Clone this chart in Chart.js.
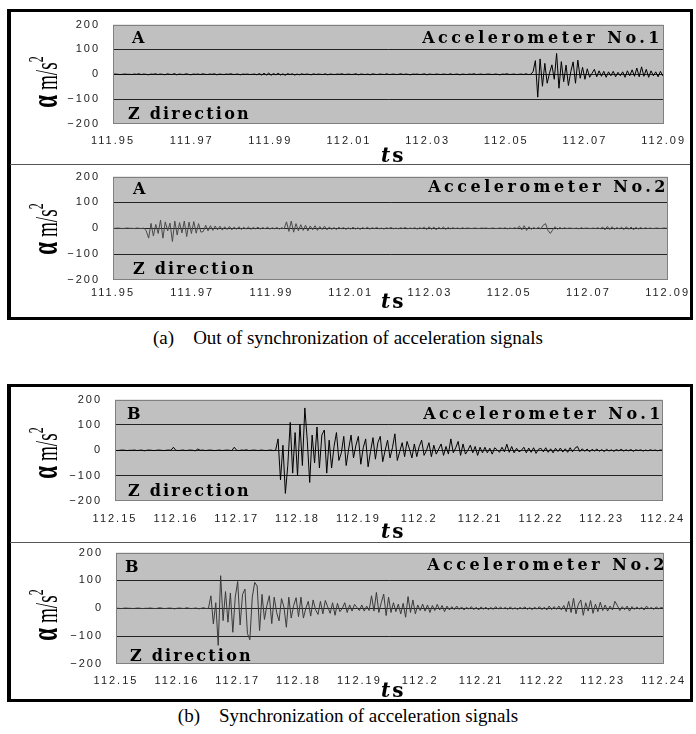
<!DOCTYPE html>
<html><head><meta charset="utf-8">
<script src="https://cdn.jsdelivr.net/npm/chart.js@4.4.1/dist/chart.umd.min.js"></script>
<style>
body{margin:0;background:#fff;width:696px;height:734px;position:relative;overflow:hidden;}
.box{position:absolute;box-sizing:border-box;border:3px solid #000;border-left-width:4px;}
.sep{position:absolute;height:1px;background:#555;}
canvas{position:absolute;z-index:1;}
.lab{position:absolute;z-index:3;font-family:"DejaVu Serif",serif;font-weight:bold;font-size:16px;line-height:16px;white-space:pre;color:#000;}
.acc{letter-spacing:3.5px;text-align:right;}
.zd{letter-spacing:2.2px;}
.ylab{position:absolute;z-index:3;width:120px;height:40px;line-height:40px;text-align:center;font-family:"Liberation Serif",serif;font-size:32px;white-space:nowrap;color:#000;}
.ylab b{font-size:38px;}
.ylab sup{font-size:20px;vertical-align:14px;line-height:0;}
.ts{position:absolute;z-index:3;font-family:"DejaVu Serif",serif;font-size:20px;line-height:20px;font-weight:bold;letter-spacing:2px;color:#000;}
.cap{position:absolute;left:0;width:696px;text-align:center;font-family:"Liberation Serif",serif;font-size:19px;line-height:20px;white-space:pre;color:#000;}
</style></head><body>
<div class="box" style="left:7px;top:9px;width:686px;height:311px"></div>
<div class="sep" style="left:10px;top:164px;width:680px"></div>
<div class="box" style="left:7px;top:384px;width:686px;height:318px"></div>
<div class="sep" style="left:10px;top:542px;width:680px"></div>

<div class="lab" style="left:132px;top:30px">A</div>
<div class="lab acc" style="right:33px;top:30px">Accelerometer No.1</div>
<div class="lab zd" style="left:128px;top:106px">Z direction</div>

<div class="lab" style="left:133px;top:181px">A</div>
<div class="lab acc" style="right:27px;top:179px">Accelerometer No.2</div>
<div class="lab zd" style="left:133px;top:261px">Z direction</div>

<div class="lab" style="left:127px;top:406px">B</div>
<div class="lab acc" style="right:32px;top:406px">Accelerometer No.1</div>
<div class="lab zd" style="left:128px;top:483px">Z direction</div>

<div class="lab" style="left:125px;top:559px">B</div>
<div class="lab acc" style="right:28px;top:557px">Accelerometer No.2</div>
<div class="lab zd" style="left:130px;top:648px">Z direction</div>

<div class="ylab" style="left:-16px;top:62px;transform:rotate(-90deg) scaleX(0.6)"><b>α</b> m/s<sup>2</sup></div>
<div class="ylab" style="left:-16px;top:209px;transform:rotate(-90deg) scaleX(0.6)"><b>α</b> m/s<sup>2</sup></div>
<div class="ylab" style="left:-16px;top:433px;transform:rotate(-90deg) scaleX(0.6)"><b>α</b> m/s<sup>2</sup></div>
<div class="ylab" style="left:-16px;top:595px;transform:rotate(-90deg) scaleX(0.6)"><b>α</b> m/s<sup>2</sup></div>

<div class="ts" style="left:381px;top:145px"><i>t</i>s</div>
<div class="ts" style="left:381px;top:291px"><i>t</i>s</div>
<div class="ts" style="left:381px;top:521px"><i>t</i>s</div>
<div class="ts" style="left:381px;top:680px"><i>t</i>s</div>

<div class="cap" style="top:328px">(a)    Out of synchronization of acceleration signals</div>
<div class="cap" style="top:706px">(b)    Synchronization of acceleration signals</div>

<script>
// ---- tick labels ----
const TICKS_A = ['111.95','111.97','111.99','112.01','112.03','112.05','112.07','112.09'];
const TICKS_B = ['112.15','112.16','112.17','112.18','112.19','112.2','112.21','112.22','112.23','112.24'];
const Y_MIN = -200, Y_MAX = 200, Y_STEP = 100;

// ---- sampling (start time, interval in s) ----
const T0_A = 111.95, DT_A = 0.0006;
const T0_B = 112.15, DT_B = 0.0004;

// ---- (a) Accelerometer No.1, m/s^2 ----
const A1 = [
0,1,0,-1,0,1,0,0,-1,1,0,2,-1,1,0,-2,1,0,2,-1,
1,0,-2,2,0,-1,3,-2,1,0,-1,2,0,-2,1,0,1,-1,2,0,
-1,1,0,2,-2,1,0,-1,1,0,2,-1,0,1,-2,1,0,1,-1,0,
1,-2,3,-3,4,-3,5,-4,3,-2,4,-3,2,-4,3,-1,2,-3,1,-2,
2,-1,1,0,-2,2,-1,1,0,-1,2,-2,1,0,-1,1,0,2,-1,0,
1,-1,0,2,-2,1,0,-1,1,-2,2,0,-1,1,0,-1,2,-1,0,1,
-1,0,2,-1,1,0,-2,1,0,1,-1,0,2,-2,1,0,-1,1,0,-1,
1,0,-1,2,-1,0,1,-2,1,0,-1,1,0,2,-1,0,1,-1,0,1,
0,-1,1,0,-2,1,0,2,-1,0,1,-1,0,1,-1,2,-1,0,
10,55,-92,62,-48,44,-36,5,38,-20,84,-56,51,-30,37,-45,10,50,-36,57,
-16,28,-20,22,-12,4,20,-10,14,-8,12,-12,10,-6,12,-10,8,-6,10,-12,
14,-6,18,-8,25,-10,30,-8,20,-12,14,-6,10,-10,12,-6,8,-8,10,0
];
// ---- (a) Accelerometer No.2 ----
const A2 = [
0,0,1,0,-1,0,1,0,0,-1,1,0,-1,1,
-10,-38,19,-30,15,-20,32,-38,25,-10,20,-51,28,-26,22,-18,28,-32,24,-20,26,-19,18,-15,
-12,12,-10,10,-8,9,-6,8,-7,6,-5,7,-6,5,-4,6,-5,4,-3,5,-4,3,-2,4,-3,3,-2,4,-3,2,-2,3,-3,2,-2,
25,-12,28,-15,18,-10,14,-8,12,-10,9,-6,10,-8,7,-5,8,-6,
5,-4,3,-5,4,-2,3,-4,2,-3,
4,-3,2,-4,3,-2,4,-3,2,-1,
3,-2,1,-3,2,-1,3,-2,1,-2,
2,-1,3,-2,1,-1,2,-3,2,-1,
4,-5,6,-4,5,-6,4,-3,5,-4,
3,-2,2,-1,1,-2,2,-1,1,0,
-1,1,0,-1,1,0,1,-1,0,1,
-1,0,1,-1,2,-2,1,-1,2,-1,
8,-6,10,-8,6,-4,3,-2,4,-3,12,18,-8,-20,-6,6,-4,3,-2,2,
-1,1,0,-1,1,-2,2,-1,1,0,
-1,1,-1,2,-2,5,-6,7,-5,6,
-4,3,-2,4,-5,6,-4,5,-6,4,
-3,3,-2,2,-1,1,-1,0,1,-1,
0,1,0
];
// ---- (b) Accelerometer No.1 ----
const B1 = [
0,-1,0,1,0,-1,0,0,1,-1,
0,1,-2,0,1,0,-1,0,1,0,
-1,0,1,0,12,0,-1,0,1,-1,
0,1,0,-2,5,0,1,-1,0,1,
0,-1,0,1,-1,0,1,0,-1,12,
0,-1,1,0,2,-1,0,1,0,-1,
1,0,-1,0,1,-1,0,
45,-117,20,-170,-60,110,-90,70,-100,103,-60,167,40,-127,60,-50,92,-70,60,80,-90,
40,-70,15,70,-40,-10,55,-60,5,60,-30,20,55,-55,10,45,-65,-5,50,-35,
30,55,-45,0,40,-30,10,65,-40,-5,30,-25,35,5,-30,25,-25,15,40,-20,
0,30,-25,20,-15,5,25,-20,15,-15,45,-10,10,35,-20,25,-15,0,20,-10,
15,-20,12,-10,
12,-10,8,-15,10,2,-8,12,-6,24,
-8,15,-10,8,-6,0,12,-10,9,-8,
10,-12,4,8,-6,10,-8,6,-10,8,
-5,9,-7,6,-8,10,-6,8,15,-5,
6,-4,5,-6,4,-3,5,-4,3,-5,
4,-3,2,-4,3,-2,4,-3,2,-2,
3,-4,2,-1,2,-3,1,-2,2,-1,
1,-2,1,0
];
// ---- (b) Accelerometer No.2 ----
const B2 = [
0,0,-1,0,1,0,0,-1,0,1,
0,-1,0,0,1,0,-1,0,2,0,
-1,0,1,0,-2,0,1,0,-1,2,
0,-1,0,1,-2,0,2,-1,0,
45,-56,20,-133,117,-44,60,-50,55,-86,40,96,-60,50,69,-90,-113,40,93,80,-80,
50,-40,10,45,-55,40,-15,-45,35,5,-68,40,-35,10,38,-30,40,-35,0,25,
-28,30,-5,-22,25,-20,28,5,-18,20,-25,18,-12,0,20,-15,12,-10,14,3,
-8,12,-10,8,-8,
45,-10,57,-15,20,51,-26,40,-15,20,-12,15,-20,
18,-32,42,-15,30,-20,12,-8,15,-10,12,-15,10,-8,14,-6,10,-12,8,-6,
6,-5,8,-4,5,-6,4,-3,6,-5,4,-6,5,-3,4,-5,3,-4,6,-3,
4,-2,3,-4,5,-3,2,-4,3,-2,5,-4,3,-5,4,-3,6,-5,4,-6,
8,-5,6,-4,8,-6,10,
-12,25,-15,36,-20,15,30,-25,20,-10,28,-18,15,-12,22,-8,12,
-10,8,-6,25,10,-8,6,-5,8,-10,6,-4,5,-3,4,-6,8,-2,3,-4,5,-2,3,0
];

// ---- layout (plot-area pixel boxes) ----
const PANELS = [
  {vals:A1, t0:T0_A, dt:DT_A, ticks:TICKS_A, color:'#000000', L:113, R:669, T:25,  B:124, xpad:10},
  {vals:A2, t0:T0_A, dt:DT_A, ticks:TICKS_A, color:'#4a4a4a', L:113, R:672, T:177, B:280, xpad:6},
  {vals:B1, t0:T0_B, dt:DT_B, ticks:TICKS_B, color:'#000000', L:115, R:673, T:400, B:501, xpad:11},
  {vals:B2, t0:T0_B, dt:DT_B, ticks:TICKS_B, color:'#3a3a3a', L:116, R:673, T:553, B:664, xpad:10}
];

const plotBg = {
  id:'plotBg',
  beforeLayout(c){ c.ctx.letterSpacing = '2px'; },
  beforeDraw(c){
    const a=c.chartArea, x=c.ctx;
    x.letterSpacing='2px';
    x.save(); x.fillStyle='#c0c0c0'; x.fillRect(a.left,a.top,a.right-a.left,a.bottom-a.top); x.restore();
  },
  afterDraw(c){
    const a=c.chartArea, x=c.ctx;
    x.save(); x.strokeStyle='#808080'; x.lineWidth=1;
    x.strokeRect(Math.round(a.left)+0.5, Math.round(a.top)+0.5, Math.round(a.right-a.left)-1, Math.round(a.bottom-a.top)-1);
    x.restore();
  }
};

const CV_LEFT = 50, CV_RIGHT = 696, X_H = 30;
const tickFont = {family:'"Liberation Sans", Arial, sans-serif', size:11};

function makeConfig(p){
  const tv=p.ticks.map(Number);
  return {
    type:'line',
    data:{datasets:[{
      data:p.vals.map((v,i)=>({x:p.t0+i*p.dt, y:v})),
      borderColor:p.color, borderWidth:1, pointRadius:0, tension:0, fill:false
    }]},
    options:{
      responsive:false, maintainAspectRatio:false, animation:false, devicePixelRatio:1,
      layout:{padding:{top:0, right:CV_RIGHT-p.R, left:0, bottom:0}},
      plugins:{legend:{display:false}, tooltip:{enabled:false}},
      scales:{
        x:{type:'linear', min:tv[0], max:tv[tv.length-1],
           afterBuildTicks:s=>{ s.ticks = tv.map(v=>({value:v})); },
           afterFit:s=>{ s.height=X_H; },
           ticks:{autoSkip:false, maxRotation:0, padding:p.xpad, font:tickFont, color:'#222',
                  callback:(v,i)=>p.ticks[i]},
           grid:{display:false, drawTicks:false}, border:{display:false}},
        y:{min:Y_MIN, max:Y_MAX,
           afterFit:s=>{ s.width=p.L-CV_LEFT; },
           ticks:{stepSize:Y_STEP, padding:13, font:tickFont, color:'#222',
                  callback:v=> v<0 ? '\u2212'+Math.abs(v) : String(v)},
           grid:{drawTicks:false, lineWidth:1,
                 color:ctx=> (ctx.tick && Math.abs(ctx.tick.value)===Y_MAX) ? 'rgba(0,0,0,0)' : '#222'},
           border:{display:false}}
      }
    },
    plugins:[plotBg]
  };
}

PANELS.forEach(p=>{
  const cv=document.createElement('canvas');
  const w=CV_RIGHT-CV_LEFT;
  document.body.appendChild(cv);
  cv.style.left=CV_LEFT+'px';
  const setSize=h=>{ cv.width=w; cv.height=h; cv.style.width=w+'px'; cv.style.height=h+'px'; };
  // first pass: find how far the plot area sits from the canvas edges
  const h0=(p.B-p.T)+20+X_H;
  setSize(h0);
  let ch=new Chart(cv, makeConfig(p));
  const topOff=ch.chartArea.top, botOff=h0-ch.chartArea.bottom;
  ch.destroy();
  const h=Math.round(topOff+(p.B-p.T)+botOff);
  setSize(h);
  ch=new Chart(cv, makeConfig(p));
  cv.style.top=(p.T-Math.round(ch.chartArea.top))+'px';
});
</script>
</body></html>
